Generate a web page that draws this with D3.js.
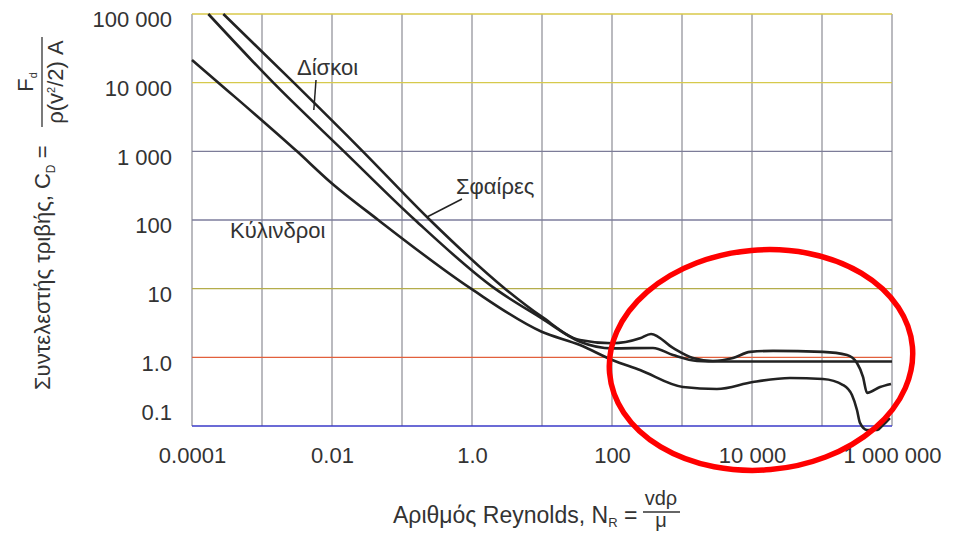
<!DOCTYPE html>
<html><head><meta charset="utf-8">
<script src="https://cdn.jsdelivr.net/npm/d3@7"></script>
<style>
body{margin:0;background:#fff}
svg{display:block}
text{font-family:"Liberation Sans",Arial,Helvetica,sans-serif;fill:#333}
</style>
</head><body>
<svg id="chart" width="954" height="533"></svg>
<script>
// ---- data ----
const xTicks = [1e-4, 1e-2, 1, 1e2, 1e4, 1e6];
const xTickLabels = ["0.0001", "0.01", "1.0", "100", "10 000", "1 000 000"];
const xGridValues = [1e-4, 1e-3, 1e-2, 1e-1, 1, 1e1, 1e2, 1e3, 1e4, 1e5, 1e6];
const yTicks = [0.1, 1, 10, 100, 1000, 10000, 100000];
const yTickLabels = ["0.1", "1.0", "10", "100", "1 000", "10 000", "100 000"];
const yGridColors = ["#3a3ac8", "#e2603c", "#b4ad4a", "#7c7c9c", "#7c7c98", "#d6c94c", "#d8c84a"];

const sphereRe = [0.00028, 0.00284, 0.0275, 0.251, 2.96, 9.9, 34.9, 101, 251, 361, 743, 1435, 2770, 5350, 9360, 20000, 103000, 228000, 316000, 385000, 440000, 675000, 968000];
const sphereCd = [100000, 10000, 1000, 100, 10, 3.91, 1.79, 1.60, 1.89, 2.19, 1.37, 0.977, 0.885, 0.977, 1.20, 1.24, 1.20, 1.08, 0.826, 0.518, 0.303, 0.37, 0.41];

const diskRe = [0.000171, 0.00145, 0.0148, 0.1535, 2.13, 9.9, 34.9, 101, 385, 743, 1640, 3490, 48500, 1e6];
const diskCd = [100000, 10000, 1000, 100, 10, 3.70, 1.69, 1.35, 1.37, 1.08, 0.885, 0.87, 0.87, 0.87];

const cylRe = [1e-4, 2.38e-4, 3.16e-3, 9.35e-3, 0.0458, 0.968, 9.9, 34.9, 101, 251, 1033, 3160, 10300, 34900, 103000, 200000, 268000, 316000, 349000, 440000, 611000, 743000, 935000];
const cylCd = [21400, 10000, 1000, 361, 100, 10, 2.36, 1.51, 0.914, 0.653, 0.37, 0.346, 0.4375, 0.5, 0.483, 0.395, 0.282, 0.171, 0.111, 0.0875, 0.0875, 0.1035, 0.1306];

const seriesNames = ["Σφαίρες", "Δίσκοι", "Κύλινδροι"];

// ---- setup ----
const svg = d3.select("#chart");
const x = d3.scaleLog().domain([1e-4, 1e6]).range([192, 892]);
const y = d3.scaleLog().domain([0.1, 1e5]).range([426, 14]);

// vertical grid
svg.append("g").selectAll("line").data(xGridValues).join("line")
  .attr("x1", d => x(d)).attr("x2", d => x(d))
  .attr("y1", y(1e5)).attr("y2", y(0.1))
  .attr("stroke", "#8c8c94").attr("stroke-width", 1.2);

// horizontal grid
svg.append("g").selectAll("line").data(yTicks).join("line")
  .attr("x1", x(1e-4)).attr("x2", x(1e6))
  .attr("y1", d => y(d)).attr("y2", d => y(d))
  .attr("stroke", (d, i) => yGridColors[i]).attr("stroke-width", 1.4);

// y axis labels
const yAxis = d3.axisLeft(y).tickValues(yTicks)
  .tickFormat((d, i) => yTickLabels[i]).tickSize(0).tickPadding(20);
const gy = svg.append("g").attr("transform", `translate(${x(1e-4)},0)`).call(yAxis);
gy.select(".domain").remove();
gy.selectAll("text").attr("font-size", 22).attr("fill", "#333")
  .attr("font-family", '"Liberation Sans",Arial,sans-serif')
  .attr("dy", d => d === 0.1 ? "-0.3em" : "0.58em");

// x axis labels
const xAxis = d3.axisBottom(x).tickValues(xTicks)
  .tickFormat((d, i) => xTickLabels[i]).tickSize(0).tickPadding(21);
const gx = svg.append("g").attr("transform", `translate(0,${y(0.1)})`).call(xAxis);
gx.select(".domain").remove();
gx.selectAll("text").attr("font-size", 22).attr("fill", "#333")
  .attr("font-family", '"Liberation Sans",Arial,sans-serif');

// curves
const line = d3.line().x(d => x(d[0])).y(d => y(d[1])).curve(d3.curveMonotoneX);
const series = [
  { name: seriesNames[0], re: sphereRe, cd: sphereCd },
  { name: seriesNames[1], re: diskRe, cd: diskCd },
  { name: seriesNames[2], re: cylRe, cd: cylCd }
];
svg.append("g").selectAll("path").data(series).join("path")
  .attr("d", s => line(s.re.map((r, i) => [r, s.cd[i]])))
  .attr("fill", "none").attr("stroke", "#222").attr("stroke-width", 2.6)
  .attr("stroke-linejoin", "round");

// labels + leaders
const lab = svg.append("g").attr("font-size", 22);
lab.append("text").attr("x", 297).attr("y", 75).text("Δίσκοι");
svg.append("line").attr("x1", 316).attr("y1", 80).attr("x2", x(0.0055)).attr("y2", 110)
  .attr("stroke", "#222").attr("stroke-width", 1.5);
lab.append("text").attr("x", 456).attr("y", 194).text("Σφαίρες");
svg.append("line").attr("x1", 462).attr("y1", 199).attr("x2", 427).attr("y2", 217)
  .attr("stroke", "#222").attr("stroke-width", 1.5);
lab.append("text").attr("x", 230).attr("y", 238).text("Κύλινδροι");

// y title (rotated)
const yt = svg.append("g").attr("transform", "rotate(-90)").attr("font-size", 22);
const yMain = yt.append("text").attr("x", -390).attr("y", 50);
yMain.append("tspan").text("Συντελεστής τριβής, C");
yMain.append("tspan").attr("font-size", 12).attr("dy", 5).text("D");
yMain.append("tspan").attr("dy", -5).text(" =");
yt.append("line").attr("x1", -127).attr("x2", -37).attr("y1", 42).attr("y2", 42)
  .attr("stroke", "#333").attr("stroke-width", 1.3);
const num = yt.append("text").attr("x", -82).attr("y", 33).attr("text-anchor", "middle");
num.append("tspan").text("F");
num.append("tspan").attr("font-size", 11).attr("dy", 4).text("d");
const den = yt.append("text").attr("x", -82).attr("y", 63).attr("text-anchor", "middle");
den.append("tspan").text("ρ(v");
den.append("tspan").attr("font-size", 11).attr("dy", -8).text("2");
den.append("tspan").attr("dy", 8).text("/2) A");

// x title
const xt = svg.append("g").attr("font-size", 23);
const xMain = xt.append("text").attr("x", 393).attr("y", 523);
xMain.append("tspan").text("Αριθμός Reynolds, N");
xMain.append("tspan").attr("font-size", 13).attr("dy", 4).text("R");
xMain.append("tspan").attr("dy", -4).text(" =");
xt.append("line").attr("x1", 643).attr("x2", 680).attr("y1", 512).attr("y2", 512)
  .attr("stroke", "#333").attr("stroke-width", 1.3);
xt.append("text").attr("x", 661).attr("y", 505).attr("font-size", 20).attr("text-anchor", "middle").text("vdρ");
xt.append("text").attr("x", 661).attr("y", 527).attr("font-size", 20).attr("text-anchor", "middle").text("μ");

// red annotation ellipse
svg.append("ellipse").attr("cx", 761).attr("cy", 360).attr("rx", 152).attr("ry", 110)
  .attr("transform", "rotate(-5,761,360)")
  .attr("fill", "none").attr("stroke", "#f00").attr("stroke-width", 5.5);
</script>
</body></html>
